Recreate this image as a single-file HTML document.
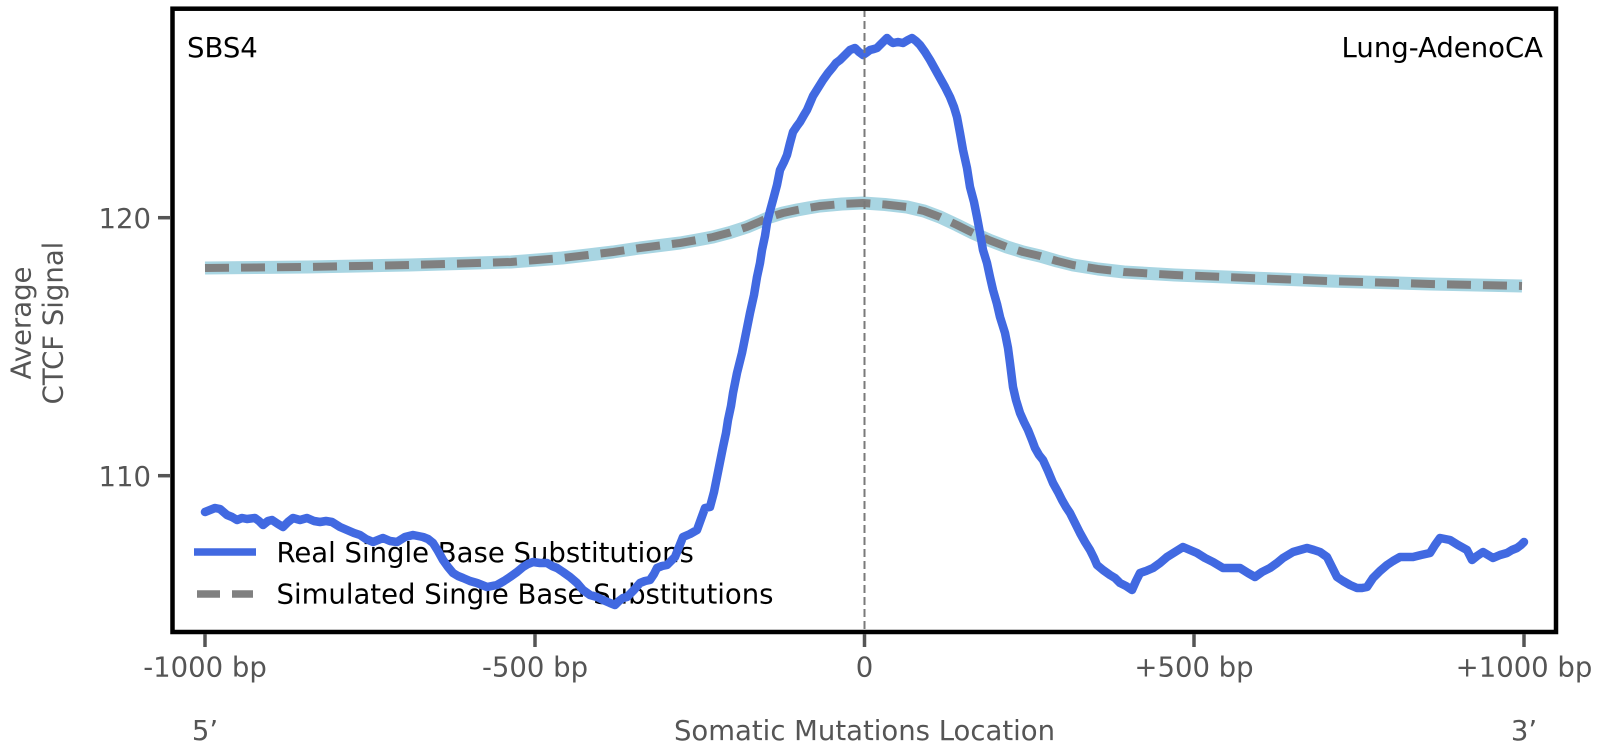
<!DOCTYPE html>
<html>
<head>
<meta charset="utf-8">
<style>
html,body{margin:0;padding:0;background:#fff;}
svg{display:block;}
text{font-family:"DejaVu Sans","Liberation Sans",sans-serif;}
</style>
</head>
<body>
<svg width="1603" height="756" viewBox="0 0 1603 756" xmlns="http://www.w3.org/2000/svg">
<rect x="0" y="0" width="1603" height="756" fill="#fff"/>

<!-- annotations inside -->
<text x="187" y="57" font-size="27.5" fill="#000">SBS4</text>
<text x="1543" y="57" font-size="27.5" fill="#000" text-anchor="end">Lung-AdenoCA</text>

<!-- legend -->
<line x1="194" y1="552" x2="256" y2="552" stroke="#4169E1" stroke-width="7.5"/>
<text x="276.5" y="562" font-size="27.5" fill="#000">Real Single Base Substitutions</text>
<line x1="197" y1="594" x2="253" y2="594" stroke="#808080" stroke-width="7.5" stroke-dasharray="23 12"/>
<text x="276.5" y="603.5" font-size="27.5" fill="#000">Simulated Single Base Substitutions</text>

<!-- simulated -->
<polyline fill="none" stroke="#a8d5e2" stroke-width="13" stroke-linejoin="round"
points="205,268 256,267.5 307,267 358,266 409,265 460,263.5 511,262 537,260 562,258 588,255 613,252 640,248 660,245.5 680,243 697,240 713,237 730,232.5 747,227 760,221.5 770,217 783,213 797,210 808,208 820,206 842,204 863,203 885,204.5 907,207 924,211 940,217 957,225 973,233 990,240.5 1007,247 1023,252 1040,256 1057,261 1073,265 1098,269 1124,272 1175,275 1226,277 1250,278 1290,279.5 1328,281 1380,282.5 1430,284 1476,285 1522,286"/>
<polyline fill="none" stroke="#808080" stroke-width="8" stroke-linejoin="round" stroke-dasharray="24 12"
points="205,268 256,267.5 307,267 358,266 409,265 460,263.5 511,262 537,260 562,258 588,255 613,252 640,248 660,245.5 680,243 697,240 713,237 730,232.5 747,227 760,221.5 770,217 783,213 797,210 808,208 820,206 842,204 863,203 885,204.5 907,207 924,211 940,217 957,225 973,233 990,240.5 1007,247 1023,252 1040,256 1057,261 1073,265 1098,269 1124,272 1175,275 1226,277 1250,278 1290,279.5 1328,281 1380,282.5 1430,284 1476,285 1522,286"/>

<!-- real -->
<polyline fill="none" stroke="#4169E1" stroke-width="8.5" stroke-linejoin="round" stroke-linecap="round"
points="205,512 210,510 215,508 220,509 227,515 232,517 237,520 242,518 247,519 255,518 259,521 263,525 268,521 272,520 278,524 283,527 288,522 293,518 300,520 307,518 314,521 320,522 326,521 332,522 340,527 347,530 354,533 360,535 366,539 373,542 378,540 383,538 390,541 397,542 405,537 413,535 418,536 423,537 428,539 433,543 438,551 443,560 448,567 453,573 458,576 463,578 470,581 477,583 482,585 487,587 492,586 497,585 504,581 510,577 517,572 523,567 528,564 533,562 540,563 547,563 552,566 557,568 563,572 570,577 577,583 583,590 590,595 597,597 603,600 610,603 615,605 619,601 623,598 627,597 634,590 640,583 645,581 650,580 654,574 657,568 662,566 667,565 671,561 675,557 679,547 683,537 690,534 697,530 701,519 705,508 710,507 714,492 717,477 720,462 723,447 726,433 728,420 731,406 733,393 737,373 742,353 746,333 750,313 754,295 757,277 760,263 762,250 765,236 767,223 770,211 773,200 777,185 780,170 784,162 787,155 790,143 793,132 797,126 800,122 804,115 807,110 810,103 813,96 818,88 823,80 828,73 833,67 836,63 840,60 845,55 850,50 855,48 859,52 863,55 866,53 870,50 874,49 877,48 882,43 887,38 890,41 893,43 898,42 903,43 908,40 912,38 916,41 920,45 925,52 930,60 935,69 940,78 945,87 950,97 954,107 957,117 960,133 963,150 967,168 970,187 974,202 977,217 980,233 983,250 987,263 990,277 993,290 997,304 1000,317 1005,333 1008,348 1010,363 1013,387 1016,400 1020,413 1024,422 1028,430 1032,440 1035,448 1039,455 1043,460 1048,471 1053,483 1058,492 1062,500 1066,507 1070,513 1075,523 1080,533 1085,542 1090,550 1094,558 1097,565 1103,570 1110,575 1115,578 1120,583 1126,586 1132,590 1136,581 1140,573 1146,571 1153,568 1160,563 1167,557 1175,552 1183,547 1190,550 1197,553 1205,558 1213,562 1218,565 1223,568 1232,568 1240,568 1248,573 1255,577 1262,572 1270,568 1277,563 1283,558 1288,555 1293,552 1300,550 1307,548 1314,550 1320,552 1327,557 1332,567 1337,577 1343,581 1350,585 1357,588 1362,588 1367,587 1373,578 1380,571 1387,565 1393,561 1400,557 1407,557 1413,557 1421,555 1430,553 1435,545 1440,538 1445,539 1450,540 1458,545 1467,550 1472,560 1477,556 1483,552 1488,555 1493,558 1500,555 1507,553 1512,550 1517,548 1521,545 1524,542"/>

<!-- vertical dashed line at 0 -->
<line x1="864.5" y1="9" x2="864.5" y2="632" stroke="#7a7a7a" stroke-width="2" stroke-dasharray="8 4"/>

<!-- frame -->
<rect x="172.5" y="8.7" width="1383.5" height="623.3" fill="none" stroke="#000" stroke-width="4.5"/>

<!-- y ticks -->
<line x1="158" y1="217.7" x2="170" y2="217.7" stroke="#555" stroke-width="3.5"/>
<line x1="158" y1="475.7" x2="170" y2="475.7" stroke="#555" stroke-width="3.5"/>
<text x="151" y="228" font-size="27.5" fill="#555" text-anchor="end">120</text>
<text x="151" y="486" font-size="27.5" fill="#555" text-anchor="end">110</text>

<!-- y label -->
<text transform="translate(30.5,323) rotate(-90)" font-size="27.5" fill="#555" text-anchor="middle">Average</text>
<text transform="translate(62.5,323) rotate(-90)" font-size="27.5" fill="#555" text-anchor="middle">CTCF Signal</text>

<!-- x ticks -->
<g stroke="#555" stroke-width="3.5">
<line x1="205" y1="634" x2="205" y2="647"/>
<line x1="535" y1="634" x2="535" y2="647"/>
<line x1="864.5" y1="634" x2="864.5" y2="647"/>
<line x1="1194" y1="634" x2="1194" y2="647"/>
<line x1="1524" y1="634" x2="1524" y2="647"/>
</g>
<g font-size="27.5" fill="#555" text-anchor="middle">
<text x="205" y="676.5">-1000 bp</text>
<text x="535" y="676.5">-500 bp</text>
<text x="864.5" y="676.5">0</text>
<text x="1194" y="676.5">+500 bp</text>
<text x="1524" y="676.5">+1000 bp</text>
<text x="205" y="740">5’</text>
<text x="1524" y="740">3’</text>
<text x="864.5" y="740">Somatic Mutations Location</text>
</g>
</svg>
</body>
</html>
